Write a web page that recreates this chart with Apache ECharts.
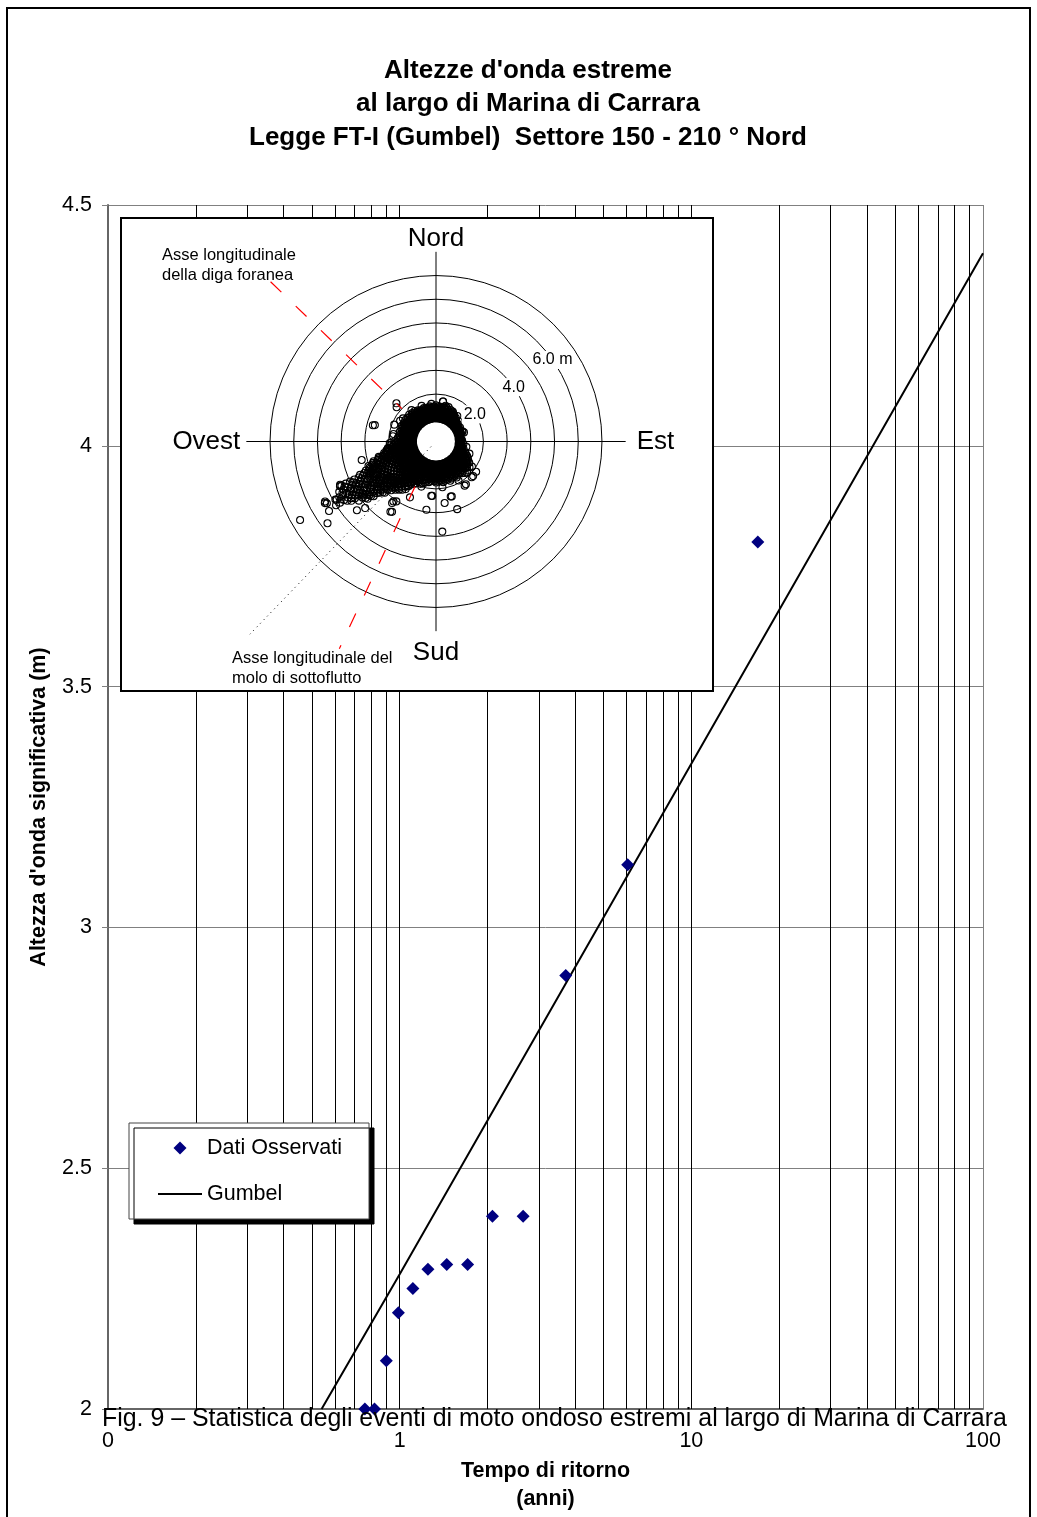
<!DOCTYPE html>
<html><head><meta charset="utf-8">
<script src="https://cdn.jsdelivr.net/npm/echarts@6/dist/echarts.min.js"></script>
<style>html,body{margin:0;padding:0;background:#fff}#c{width:1037px;height:1517px}</style>
</head><body><div id="c"></div>
<script>
const FONT = 'Liberation Sans, Arial, Helvetica, sans-serif';
const titleLines = ["Altezze d'onda estreme", "al largo di Marina di Carrara", "Legge FT-I (Gumbel)  Settore 150 - 210 \u00b0 Nord"];
const yAxisName = "Altezza d'onda significativa (m)";
const xAxisName = "Tempo di ritorno\n(anni)";
const captionText = "Fig. 9 \u2013 Statistica degli eventi di moto ondoso estremi al largo di Marina di Carrara";
const xTickLabels = ['0', '1', '10', '100'];
const minorGridValues = [0.2,0.3,0.4,0.5,0.6,0.7,0.8,0.9,1,2,3,4,5,6,7,8,9,10,20,30,40,50,60,70,80,90];

const returnPeriods = [16.9, 6.05, 3.71, 2.65, 2.08, 1.71, 1.45, 1.25, 1.11, 0.99, 0.90, 0.82, 0.76];
const observedHs    = [3.80, 3.13, 2.90, 2.40, 2.40, 2.30, 2.30, 2.29, 2.25, 2.20, 2.10, 2.00, 2.00];
const gumbelT  = [0.54, 1, 10, 100];
const gumbelHs = [2.00, 2.28, 3.34, 4.40];

const compassLabels = {0: 'Nord', 90: 'Est', 180: 'Sud', 270: 'Ovest'};
const ringLabelValues = [2, 4, 6];
const ringLabelTexts = ['2.0', '4.0', '6.0 m'];
const ringLabelBearing = 55;
const crossNS = [[8, 0], [0, 0], [8, 180]];
const crossEW = [[8, 90], [0, 0], [8, 270]];

// wave rose observations: [bearing (deg N), Hs values (m)...]
const roseRows = [
 [0, 0.97,1.08,1.2,1.31,1.42,1.53],
 [5, 0.98,1.09,1.21,1.32,1.44],
 [10, 0.97,1.08,1.19,1.3,1.41,1.71],
 [15, 0.98,1.1,1.22,1.33,1.45,1.56],
 [20, 0.97,1.08,1.2,1.31,1.43],
 [25, 0.98,1.09,1.21,1.33,1.46],
 [30, 0.97,1.08,1.19,1.31,1.42],
 [35, 0.98,1.1,1.22,1.33],
 [40, 0.97,1.08,1.2,1.3],
 [45, 0.98,1.09,1.19],
 [50, 0.97,1.07,1.18],
 [55, 0.98,1.08],
 [60, 0.97,1.07,1.17],
 [65, 0.98,1.08],
 [70, 0.97,1.07,1.19],
 [75, 0.98,1.06],
 [80, 0.97,1.05],
 [85, 0.96,1.06],
 [90, 0.97,1.06],
 [95, 0.96,1.05,1.16],
 [100, 0.97,1.07],
 [105, 0.98,1.08,1.2],
 [110, 0.97,1.08,1.19,1.3],
 [115, 0.98,1.09,1.21,1.33,1.45],
 [120, 0.97,1.08,1.2,1.32,1.44,1.56],
 [125, 0.98,1.1,1.22,1.34,1.46,1.6,1.85],
 [130, 0.97,1.08,1.2,1.32,1.44,1.57,1.7],
 [135, 0.98,1.1,1.22,1.35,1.48,1.62,1.86,2.13],
 [140, 0.97,1.09,1.21,1.33,1.46,1.6,1.74],
 [145, 0.98,1.1,1.23,1.36,1.5,1.64,2.2],
 [150, 0.97,1.09,1.21,1.34,1.47,1.61,1.75],
 [155, 0.98,1.1,1.23,1.36,1.5,1.64],
 [160, 0.97,1.09,1.21,1.34,1.47,1.61,1.76],
 [165, 0.98,1.1,1.23,1.36,1.5,1.64,2.4],
 [170, 0.97,1.09,1.21,1.34,1.47,1.6,1.74],
 [175, 0.98,1.1,1.23,1.36,1.5,1.63],
 [180, 0.97,1.09,1.21,1.34,1.47,1.6,1.73],
 [185, 0.98,1.1,1.23,1.36,1.49,1.62,2.3],
 [190, 0.97,1.09,1.21,1.34,1.47,1.6,1.74],
 [195, 0.98,1.1,1.23,1.36,1.5,1.64,1.8],
 [200, 0.97,1.09,1.21,1.34,1.47,1.61,1.75,1.9],
 [205, 0.98,1.1,1.23,1.37,1.51,1.65,1.8,1.95],
 [210, 0.97,1.09,1.22,1.35,1.49,1.63,1.78,1.93,2.08],
 [215, 0.98,1.1,1.23,1.37,1.51,1.66,1.81,1.97,2.13,2.3,2.48],
 [220, 0.97,1.09,1.22,1.36,1.5,1.65,1.8,1.96,2.12,2.29,2.47,2.65],
 [225, 0.98,1.1,1.24,1.38,1.53,1.68,1.84,2.0,2.17,2.34,2.52,2.7,2.88,3.06],
 [230, 0.97,1.09,1.23,1.37,1.52,1.67,1.83,1.99,2.16,2.33,2.5,2.68,2.86,3.04,3.22,3.4,3.58,3.76],
 [235, 0.98,1.1,1.24,1.38,1.53,1.68,1.84,2.0,2.17,2.34,2.51,2.69,2.87,3.05,3.23,3.41,3.6,3.79,3.98,4.17,4.36],
 [240, 0.97,1.09,1.23,1.37,1.52,1.67,1.83,1.99,2.15,2.32,2.49,2.66,2.84,3.02,3.2,3.38,3.57,3.76,3.95,4.14,4.33,4.52,4.71,4.9],
 [245, 0.98,1.1,1.24,1.38,1.53,1.68,1.84,2.0,2.16,2.33,2.5,2.67,2.85,3.03,3.21,3.4,3.6,3.8,4.0,4.2,4.4],
 [250, 0.97,1.09,1.23,1.37,1.52,1.67,1.83,1.99,2.15,2.32,2.49,2.67,2.85,3.03],
 [255, 0.98,1.1,1.24,1.38,1.53,1.68,1.84,2.0,2.16,2.33,2.5],
 [260, 0.97,1.09,1.22,1.36,1.5,1.65,1.8,1.96,2.12],
 [265, 0.98,1.1,1.23,1.36,1.5,1.65,1.8,1.95],
 [270, 0.97,1.09,1.21,1.34,1.47,1.61,1.76],
 [275, 0.98,1.1,1.22,1.35,1.48,1.62],
 [280, 0.97,1.08,1.2,1.32,1.44,1.57,1.82],
 [285, 0.98,1.09,1.21,1.33,1.45,1.58],
 [290, 0.97,1.08,1.2,1.32,1.44,1.56],
 [295, 0.98,1.1,1.22,1.34,1.46,1.58],
 [300, 0.97,1.08,1.2,1.32,1.44,1.56],
 [305, 0.98,1.09,1.21,1.33,1.45,1.58,1.7],
 [310, 0.97,1.08,1.2,1.32,1.44,1.57],
 [315, 0.98,1.1,1.22,1.34,1.47,1.6],
 [320, 0.97,1.08,1.2,1.32,1.44,1.56],
 [325, 0.98,1.09,1.21,1.33,1.45,1.57],
 [330, 0.97,1.08,1.19,1.3,1.41,1.52],
 [335, 0.98,1.09,1.2,1.31,1.43],
 [340, 0.97,1.07,1.18,1.29,1.4,1.5],
 [345, 0.98,1.1,1.21,1.33,1.44],
 [350, 0.97,1.08,1.19,1.3,1.41,1.51],
 [355, 0.99,1.1,1.22,1.33,1.45],
 [227.5, 2.4,2.6,2.8,3.0,3.2],
 [232.5, 2.5,2.7,2.9,3.1,3.3,3.5,3.7,3.9,4.1],
 [237.5, 2.6,2.8,3.0,3.2,3.4,3.6,3.8,4.0,4.2,4.4,4.6,4.8,5.0],
 [242.5, 2.6,2.8,3.0,3.2,3.4,3.6,3.8,4.0,4.2,4.4,4.6],
 [247.5, 2.4,2.6,2.8,3.0,3.2],
 [233.75, 2.6,3.0,3.4,3.8],
 [238.75, 2.7,3.1,3.5,3.9,4.3,4.7],
 [241.25, 2.9,3.3,3.7,4.1,4.5],
 [243.75, 2.7,3.1,3.5,3.9,4.3],
 [226.25, 2.3,2.5,2.7,2.9,3.1],
 [228.75, 2.3,2.5,2.7,2.9,3.1,3.3,3.5],
 [231.25, 2.4,2.6,2.8,3.0,3.2,3.4,3.6,3.8],
 [236.25, 2.5,2.7,2.9,3.1,3.3,3.5,3.7,3.9,4.1,4.3,4.5],
 [246.25, 2.3,2.5,2.7,2.9,3.1,3.3,3.5],
 [248.75, 2.2,2.4,2.6,2.8,3.0],
 [251.25, 2.2,2.4,2.6,2.8],
 [253.75, 2.1,2.3,2.5],
 [211.25, 1.6,1.8,2.0,2.2],
 [213.75, 1.7,1.9,2.1,2.3],
 [218.75, 1.7,1.9,2.1,2.3,2.5],
 [221.25, 1.6,1.8,2.0,2.2,2.4,2.6],
 [223.75, 1.7,1.9,2.1,2.3,2.5,2.7],
 [256.25, 1.6,1.8,2.0,2.2],
 [258.75, 1.7,1.9,2.1],
 [261.25, 1.6,1.8,2.0]
];
const roseRowsFill = [
 [2.5, 1.03,1.14,1.25,1.36,1.48],
 [7.5, 1.03,1.14,1.25,1.36,1.48],
 [12.5, 1.03,1.14,1.25,1.37,1.49],
 [17.5, 1.03,1.14,1.26,1.38,1.5],
 [22.5, 1.03,1.14,1.25,1.37],
 [27.5, 1.03,1.14,1.26,1.38],
 [32.5, 1.03,1.14,1.25,1.37],
 [37.5, 1.02,1.13,1.24],
 [42.5, 1.02,1.13,1.24],
 [47.5, 1.02,1.13],
 [52.5, 1.02,1.12],
 [57.5, 1.01,1.11],
 [62.5, 1.01,1.12],
 [67.5, 1.01,1.11],
 [72.5, 1.01,1.11],
 [77.5, 1.01],
 [82.5, 1.01],
 [87.5, 1.01,1.1],
 [92.5, 1.01],
 [97.5, 1.01,1.1],
 [102.5, 1.02,1.12],
 [107.5, 1.02,1.13],
 [112.5, 1.02,1.13,1.25,1.37],
 [117.5, 1.02,1.14,1.26,1.39,1.51],
 [122.5, 1.02,1.14,1.26,1.39,1.52,1.66],
 [127.5, 1.02,1.14,1.26,1.39,1.52,1.65,1.78],
 [132.5, 1.02,1.14,1.26,1.39,1.52,1.66,1.8],
 [137.5, 1.02,1.14,1.27,1.4,1.54,1.68,1.8],
 [142.5, 1.02,1.14,1.27,1.4,1.54,1.68],
 [147.5, 1.02,1.15,1.28,1.41,1.55,1.69],
 [152.5, 1.02,1.15,1.28,1.41,1.55,1.68],
 [157.5, 1.02,1.15,1.28,1.41,1.55,1.69],
 [162.5, 1.02,1.15,1.28,1.41,1.55,1.68],
 [167.5, 1.03,1.15,1.27,1.4,1.54,1.68],
 [172.5, 1.03,1.15,1.27,1.4,1.54,1.67],
 [177.5, 1.03,1.15,1.27,1.4,1.54,1.68],
 [182.5, 1.03,1.15,1.27,1.4,1.54,1.67],
 [187.5, 1.03,1.15,1.27,1.4,1.54,1.68],
 [192.5, 1.03,1.15,1.28,1.41,1.55,1.69],
 [197.5, 1.03,1.15,1.28,1.42,1.56,1.7,1.85],
 [202.5, 1.03,1.15,1.28,1.42,1.56,1.71,1.86],
 [207.5, 1.03,1.15,1.28,1.42,1.56,1.71,1.86,2.01],
 [212.5, 1.03,1.15,1.29,1.43,1.58,1.73,1.89,2.05,2.21,2.38],
 [217.5, 1.03,1.16,1.3,1.44,1.59,1.74,1.9,2.06,2.22,2.39,2.56],
 [222.5, 1.03,1.16,1.3,1.45,1.6,1.76,1.92,2.09,2.26,2.43,2.61,2.79],
 [227.5, 1.03,1.16,1.3,1.45,1.6,1.76,1.92,2.08,2.24],
 [232.5, 1.03,1.16,1.3,1.45,1.6,1.76,1.92,2.08,2.25,2.42],
 [237.5, 1.03,1.16,1.3,1.45,1.6,1.76,1.92,2.08,2.25,2.42],
 [242.5, 1.03,1.16,1.3,1.45,1.6,1.76,1.92,2.08,2.25,2.42],
 [247.5, 1.03,1.16,1.3,1.45,1.6,1.76,1.92,2.08,2.24],
 [252.5, 1.03,1.16,1.3,1.45,1.6,1.76,1.92,2.08,2.24,2.41,2.58,2.76],
 [257.5, 1.03,1.16,1.3,1.45,1.6,1.76,1.92,2.08,2.24],
 [262.5, 1.03,1.15,1.29,1.43,1.58,1.73,1.88,2.03],
 [267.5, 1.03,1.15,1.28,1.41,1.55,1.7],
 [272.5, 1.03,1.15,1.27,1.4,1.54],
 [277.5, 1.03,1.15,1.27,1.39,1.52],
 [282.5, 1.03,1.14,1.26,1.38,1.5],
 [287.5, 1.03,1.14,1.26,1.38,1.5],
 [292.5, 1.03,1.14,1.26,1.38,1.5],
 [297.5, 1.03,1.14,1.26,1.38,1.5],
 [302.5, 1.03,1.14,1.26,1.38,1.5],
 [307.5, 1.03,1.14,1.26,1.38,1.51],
 [312.5, 1.03,1.14,1.26,1.38,1.51],
 [317.5, 1.03,1.14,1.26,1.38,1.51],
 [322.5, 1.03,1.14,1.26,1.38,1.5],
 [327.5, 1.03,1.14,1.25,1.36,1.47],
 [332.5, 1.03,1.14,1.25,1.36,1.47],
 [337.5, 1.03,1.13,1.24,1.35,1.46],
 [342.5, 1.03,1.13,1.24,1.35,1.46],
 [347.5, 1.03,1.14,1.25,1.36,1.47],
 [352.5, 1.03,1.14,1.25,1.36,1.47],
 [357.5, 1.03,1.14,1.25,1.36,1.48]
];
// scattered single observations [Hs, bearing]
const roseExtra = [
 [4.86,239.6],[4.44,245.7],[5.32,241.6],[5.38,237],[5.73,233],[6.62,240],[4.42,229],[4.1,226.8],
 [3.5,212],[3.1,215.4],[2.22,255],[3.23,256],[3.09,244.4],[3.85,241.7],[4.47,245],[5.36,241],[5.29,240.5],
 [2.75,284.5],[1.83,277],[2.32,314],[2.2,311],[1.71,10],[3.81,176],[2.99,162.6],[2.91,188],[2.62,172],[2.41,164],
 [2.22,147],[2.14,133],[2.12,127],[1.51,121],[1.24,72],[1.19,69],[1.45,29],[1.33,35],[3.19,215.5],[3.53,213],[3.03,213.5],
 [2.3,184],[2.67,285],[1.95,268],[2.05,262],[1.9,292],[1.75,300],[1.68,322],[1.62,338],[1.6,353],[1.55,20],[1.4,40],
 [1.28,48],[1.3,100],[1.5,110],[1.9,150],[1.95,172],[2.0,198],[2.6,205]
];
const digaAxis = [[9.7, 314], [2.0, 314]];
const moloAxis = [[2.1, 205], [9.65, 205]];
const dottedAxis = [[0.3, 224], [11.3, 224]];

const roseData = [];
roseRows.concat(roseRowsFill).forEach(row => { for (let i = 1; i < row.length; i++) roseData.push([row[i], row[0]]); });
roseExtra.forEach(p => roseData.push(p));

const T = 'rgba(0,0,0,0)';
const ringColors = [T,'#000','#000','#000','#000','#000','#000','#000',T,T,T,T,T];
const compassKeys = {Nord: 'n', Est: 'e', Sud: 's', Ovest: 'o'};
// diamond centred in a 44x13 legend slot (zero-length end points fix the box)
const legendDiamond = 'path://M0,6.5L0,6.5M22,0L28.5,6.5L22,13L15.5,6.5ZM44,6.5L44,6.5';

const chart = echarts.init(document.getElementById('c'), null, {renderer: 'canvas'});
const option = {
  animation: false,
  backgroundColor: '#fff',
  title: {
    text: titleLines.join('\n'), left: 523, top: 49, textAlign: 'center',
    textStyle: {fontFamily: FONT, fontSize: 26, fontWeight: 'bold', color: '#000', lineHeight: 33.5}
  },
  grid: {left: 108, right: 54, top: 205, bottom: 108, outerBoundsMode: 'none'},
  xAxis: {
    type: 'log', logBase: 10, min: 0.1, max: 100,
    name: xAxisName, nameLocation: 'middle', nameGap: 41,
    nameTextStyle: {fontFamily: FONT, fontSize: 21.5, fontWeight: 'bold', color: '#000', lineHeight: 28},
    axisLine: {show: true, lineStyle: {color: '#666', width: 2}},
    axisTick: {show: false},
    axisLabel: {fontFamily: FONT, fontSize: 21.5, color: '#000', margin: 21, formatter: (v, i) => xTickLabels[i]},
    splitLine: {show: true, lineStyle: {color: '#808080', width: 1}},
    minorTick: {show: false}, minorSplitLine: {show: false}
  },
  yAxis: {
    type: 'value', min: 2, max: 4.5, interval: 0.5,
    name: yAxisName, nameLocation: 'middle', nameGap: 58,
    nameTextStyle: {fontFamily: FONT, fontSize: 21.5, fontWeight: 'bold', color: '#000'},
    axisLine: {show: true, lineStyle: {color: '#666', width: 2}},
    axisTick: {show: true, length: 6, lineStyle: {color: '#808080'}},
    axisLabel: {fontFamily: FONT, fontSize: 21.5, color: '#000', margin: 16},
    splitLine: {show: true, lineStyle: {color: '#808080', width: 1}}
  },
  polar: {center: [436, 441.5], radius: 284.5},
  angleAxis: {
    type: 'value', min: 0, max: 360, interval: 90, startAngle: 90, clockwise: true, z: 6,
    axisLine: {show: false}, axisTick: {show: false},
    splitLine: {show: false},
    axisLabel: {
      show: true, margin: -94.8, color: '#000', fontFamily: FONT, fontSize: 26,
      formatter: v => { const t = compassLabels[v]; return t ? '{' + compassKeys[t] + '|' + t + '}' : ''; },
      rich: {
        n: {fontFamily: FONT, fontSize: 26, color: '#000', padding: [0, 0, 0, 0]},
        e: {fontFamily: FONT, fontSize: 26, color: '#000', padding: [0, 0, 0, 11]},
        s: {fontFamily: FONT, fontSize: 26, color: '#000', padding: [9, 0, 0, 0]},
        o: {fontFamily: FONT, fontSize: 26, color: '#000', padding: [0, 6, 0, 0]}
      }
    }
  },
  radiusAxis: {
    type: 'value', min: 0, max: 12, interval: 1, z: 6,
    axisLine: {show: false}, axisTick: {show: false}, axisLabel: {show: false},
    splitLine: {show: true, lineStyle: {color: ringColors, width: 1}}
  },
  legend: {
    orient: 'vertical', left: 129, top: 1123,
    data: [
      {name: 'Dati Osservati', icon: legendDiamond},
      {name: 'Gumbel', itemStyle: {opacity: 0}}
    ],
    symbolKeepAspect: true,
    itemWidth: 44, itemHeight: 13, itemGap: 24, padding: [14, 27, 14, 28],
    backgroundColor: '#fff', borderColor: '#444', borderWidth: 1,
    shadowColor: '#000', shadowOffsetX: 5, shadowOffsetY: 5, shadowBlur: 0,
    textStyle: {fontFamily: FONT, fontSize: 21.5, color: '#000'},
    selectedMode: false, z: 20
  },
  graphic: [
    {type: 'rect', z: 0, silent: true, shape: {x: 7, y: 8, width: 1023, height: 1600}, style: {fill: 'none', stroke: '#000', lineWidth: 2}},
    {type: 'rect', z: 5, silent: true, shape: {x: 121, y: 218, width: 592, height: 473}, style: {fill: '#fff', stroke: '#000', lineWidth: 2}},
    {type: 'text', z: 9, silent: true, style: {text: 'Asse longitudinale\ndella diga foranea', x: 162, y: 245, fontFamily: FONT, fontSize: 16.5, lineHeight: 20, fill: '#000', align: 'left', verticalAlign: 'top'}},
    {type: 'text', z: 9, silent: true, style: {text: 'Asse longitudinale del\nmolo di sottoflutto', x: 232, y: 648, fontFamily: FONT, fontSize: 16.5, lineHeight: 20, fill: '#000', align: 'left', verticalAlign: 'top'}},
    {type: 'text', z: 30, silent: true, style: {text: captionText, x: 102, y: 1419, fontFamily: FONT, fontSize: 24.9, fill: '#000', align: 'left', verticalAlign: 'middle'}}
  ],
  series: [
    {
      type: 'line', data: [], z: 1, silent: true, symbol: 'none',
      markLine: {
        silent: true, z: 1, symbol: ['none', 'none'], label: {show: false},
        lineStyle: {color: '#000', width: 1, type: 'solid'}, emphasis: {disabled: true},
        data: minorGridValues.map(v => ({xAxis: v}))
      }
    },
    {
      name: 'Dati Osservati', type: 'scatter', z: 10, clip: false,
      data: returnPeriods.map((t, i) => [t, observedHs[i]]),
      symbol: 'diamond', symbolSize: 13, itemStyle: {color: '#000080', opacity: 1}
    },
    {
      name: 'Gumbel', type: 'line', z: 10, symbol: 'none',
      data: gumbelT.map((t, i) => [t, gumbelHs[i]]),
      lineStyle: {color: '#000', width: 2}, itemStyle: {color: '#000'}
    },
    {
      type: 'line', coordinateSystem: 'polar', z: 6, silent: true, symbol: 'none',
      data: crossNS, lineStyle: {color: '#000', width: 1}
    },
    {
      type: 'line', coordinateSystem: 'polar', z: 6, silent: true, symbol: 'none',
      data: crossEW, lineStyle: {color: '#000', width: 1}
    },
    {
      type: 'scatter', coordinateSystem: 'polar', z: 7, silent: true,
      data: [[0, 0]], symbol: 'circle', symbolSize: 39, itemStyle: {color: '#fff', opacity: 1}
    },
    {
      type: 'scatter', coordinateSystem: 'polar', z: 8, silent: true,
      data: roseData, symbol: 'circle', symbolSize: 7,
      itemStyle: {color: T, borderColor: '#000', borderWidth: 1.1, opacity: 1}
    },
    {
      type: 'line', coordinateSystem: 'polar', z: 8, silent: true, symbol: 'none',
      data: dottedAxis, lineStyle: {color: '#000', width: 1, type: [1, 4]}
    },
    {
      type: 'line', coordinateSystem: 'polar', z: 9, silent: true, symbol: 'none',
      data: digaAxis, lineStyle: {color: '#ff0000', width: 1.2, type: [15, 20]}
    },
    {
      type: 'line', coordinateSystem: 'polar', z: 9, silent: true, symbol: 'none',
      data: moloAxis, lineStyle: {color: '#ff0000', width: 1.2, type: [15, 20]}
    },
    {
      type: 'scatter', coordinateSystem: 'polar', z: 9, silent: true,
      data: ringLabelValues.map((r, i) => [r, ringLabelBearing, ringLabelTexts[i]]),
      symbolSize: 1, itemStyle: {color: T, opacity: 1},
      label: {show: true, position: 'inside', formatter: p => p.value[2], fontFamily: FONT, fontSize: 16, color: '#000', backgroundColor: '#fff', padding: [1, 2]}
    }
  ]
};
chart.setOption(option);
</script>
</body></html>
